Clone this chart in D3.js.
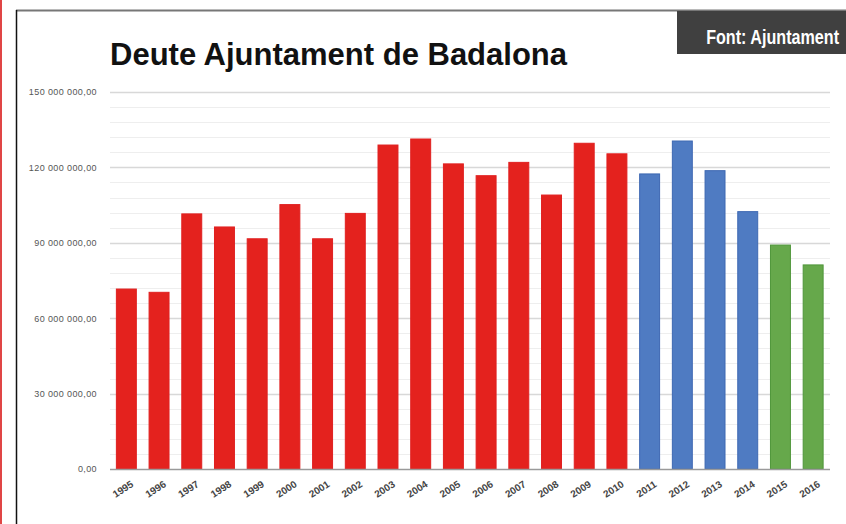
<!DOCTYPE html>
<html><head><meta charset="utf-8">
<script src="https://cdn.jsdelivr.net/npm/d3@7"></script>
<style>html,body{margin:0;padding:0;background:#fff;}svg{display:block;}</style>
</head><body>
<svg id="c" width="846" height="524"></svg>
<script>
const years = ["1995","1996","1997","1998","1999","2000","2001","2002","2003","2004","2005","2006","2007","2008","2009","2010","2011","2012","2013","2014","2015","2016"];
const debt = [71.6,70.3,101.5,96.3,91.6,105.2,91.6,101.7,128.9,131.3,121.4,116.7,122.0,109.0,129.6,125.4,117.4,130.5,118.7,102.4,89.1,81.2].map(v => v*1e6);
const periods = ["a","a","a","a","a","a","a","a","a","a","a","a","a","a","a","a","b","b","b","b","c","c"];
const yTicks = [0,30e6,60e6,90e6,120e6,150e6];
const title = "Deute Ajuntament de Badalona";
const source = "Font: Ajuntament";

const fillC = {a:"#e4221e", b:"#4f7bc2", c:"#66a84b"};
const strokeC = {a:"#e02020", b:"#3d68b2", c:"#4f963a"};

const svg = d3.select("#c");
// page frame
svg.append("rect").attr("x",0).attr("y",0).attr("width",2).attr("height",524).attr("fill","#e04545");
svg.append("line").attr("x1",16).attr("x2",846).attr("y1",10.5).attr("y2",10.5).attr("stroke","#777").attr("stroke-width",2);
svg.append("line").attr("x1",16.5).attr("x2",16.5).attr("y1",10).attr("y2",524).attr("stroke","#111").attr("stroke-width",1.5);

// source box
svg.append("rect").attr("x",677).attr("y",11).attr("width",169).attr("height",43).attr("fill","#404040");
const src = svg.append("text").attr("x",0).attr("y",0).attr("text-anchor","end")
  .attr("font-family","'Liberation Sans',Arial,sans-serif").attr("font-weight","bold")
  .attr("font-size",20).attr("fill","#fff").text(source);
const w0 = src.node().getComputedTextLength();
const sx = w0 > 0 ? Math.min(1, 133 / w0) : 0.8;
src.attr("transform", `translate(839,44) scale(${sx},1)`);

// title
svg.append("text").attr("x",110).attr("y",65).attr("font-family","'Liberation Sans',Arial,sans-serif")
  .attr("font-weight","bold").attr("font-size",31).attr("fill","#111").text(title);

const x = d3.scaleBand().domain(years).range([110,829.5]).paddingInner(0.39).paddingOuter(0.195);
const y = d3.scaleLinear().domain([0,150e6]).range([469,92]);

// minor grid
const minor = d3.range(0,150e6+1,6e6).filter(v => v % 30e6 !== 0);
svg.append("g").selectAll("line").data(minor).join("line")
  .attr("x1",110).attr("x2",830).attr("y1",d=>Math.round(y(d))+0.5).attr("y2",d=>Math.round(y(d))+0.5)
  .attr("stroke","#eeeeee").attr("stroke-width",1.2);
// major grid
svg.append("g").selectAll("line").data(yTicks.filter(d=>d>0)).join("line")
  .attr("x1",110).attr("x2",830).attr("y1",d=>Math.round(y(d))+0.5).attr("y2",d=>Math.round(y(d))+0.5)
  .attr("stroke","#d8d8d8").attr("stroke-width",1.5);

// y axis labels
const fmt = v => d3.format(",.2f")(v).replace(/,/g," ").replace(".",",");
const yAxis = d3.axisLeft(y).tickValues(yTicks).tickSize(0).tickPadding(0).tickFormat(fmt);
const ga = svg.append("g").attr("transform","translate(97,0)").call(yAxis);
ga.select(".domain").remove();
ga.selectAll("text").attr("font-family","'Liberation Sans',Arial,sans-serif").attr("font-size",9)
  .attr("letter-spacing",0.4).attr("fill","#555");

// bars
svg.append("g").selectAll("rect").data(years).join("rect")
  .attr("x",d=>x(d)).attr("width",x.bandwidth())
  .attr("y",(d,i)=>y(debt[i])).attr("height",(d,i)=>y(0)-y(debt[i]))
  .attr("fill",(d,i)=>fillC[periods[i]]).attr("stroke",(d,i)=>strokeC[periods[i]]).attr("stroke-width",1);

// baseline
svg.append("line").attr("x1",110).attr("x2",830).attr("y1",469.5).attr("y2",469.5).attr("stroke","#9a9a9a").attr("stroke-width",1.5);

// x labels
const xAxis = d3.axisBottom(x).tickSize(0).tickPadding(0);
const gx = svg.append("g").attr("transform","translate(0,480)").call(xAxis);
gx.select(".domain").remove();
gx.selectAll("text").attr("font-family","'Liberation Sans',Arial,sans-serif").attr("font-size",10).attr("font-weight","bold")
  .attr("fill","#444").attr("text-anchor","end").attr("dy","0.7em")
  .attr("transform","translate(4,0) rotate(-33)");
</script>
</body></html>
